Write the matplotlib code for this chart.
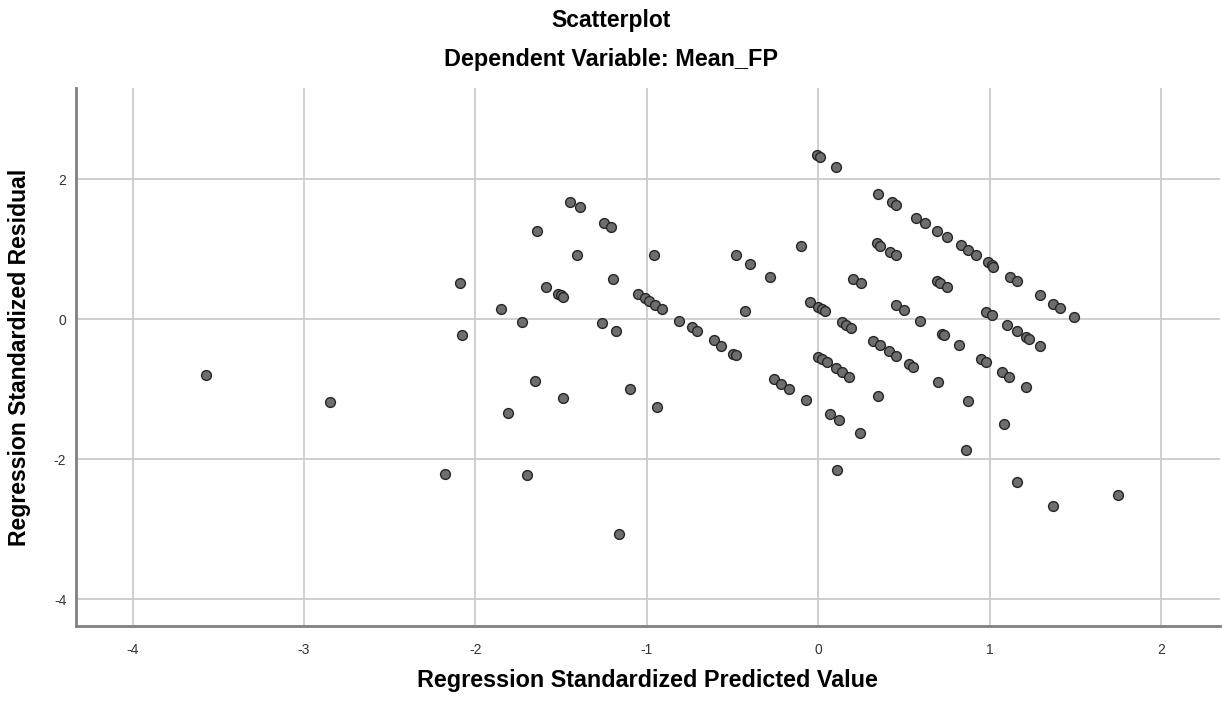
import matplotlib
matplotlib.use("Agg")
import matplotlib.pyplot as plt

plt.rcParams['font.family'] = ['Liberation Sans', 'DejaVu Sans']
plt.rcParams['axes.unicode_minus'] = False

# standardized predicted values (x) and standardized residuals (y)
pred = [-3.57, -2.85, -2.09, -2.08, -2.18, -1.85, -1.81, -1.73, -1.70, -1.65,
        -1.64, -1.59, -1.52, -1.50, -1.49, -1.49, -1.45, -1.39, -1.41, -1.26,
        -1.25, -1.21, -1.20, -1.18, -1.16, -1.10, -1.05, -1.01, -0.99, -0.95,
        -0.96, -0.94, -0.91, -0.81, -0.74, -0.71, -0.61, -0.57, -0.50, -0.48,
        -0.48, -0.43, -0.40, -0.28, -0.26, -0.22, -0.17, -0.10, -0.07, -0.05,
        -0.01, 0.00, 0.00, 0.01, 0.02, 0.02, 0.04, 0.05, 0.07, 0.10,
        0.10, 0.11, 0.12, 0.14, 0.14, 0.16, 0.18, 0.19, 0.20, 0.24,
        0.25, 0.32, 0.34, 0.35, 0.35, 0.36, 0.36, 0.41, 0.42, 0.43,
        0.45, 0.45, 0.45, 0.45, 0.50, 0.53, 0.55, 0.57, 0.59, 0.62,
        0.69, 0.69, 0.70, 0.71, 0.72, 0.73, 0.75, 0.75, 0.82, 0.83,
        0.86, 0.87, 0.87, 0.92, 0.95, 0.98, 0.98, 0.99, 1.01, 1.01,
        1.02, 1.07, 1.08, 1.10, 1.11, 1.12, 1.16, 1.16, 1.16, 1.21,
        1.21, 1.23, 1.29, 1.29, 1.37, 1.37, 1.41, 1.49, 1.75]
resid = [-0.80, -1.18, 0.52, -0.22, -2.21, 0.15, -1.34, -0.04, -2.23, -0.88,
         1.26, 0.46, 0.36, 0.34, 0.31, -1.12, 1.68, 1.60, 0.91, -0.05,
         1.38, 1.32, 0.58, -0.17, -3.07, -1.00, 0.36, 0.30, 0.26, 0.20,
         0.92, -1.25, 0.14, -0.02, -0.11, -0.17, -0.30, -0.38, -0.49, -0.51,
         0.91, 0.12, 0.79, 0.60, -0.86, -0.92, -1.00, 1.04, -1.15, 0.25,
         2.34, 0.18, -0.54, 2.31, 0.15, -0.57, 0.11, -0.61, -1.36, 2.17,
         -0.70, -2.15, -1.44, -0.04, -0.76, -0.08, -0.83, -0.12, 0.58, -1.63,
         0.51, -0.31, 1.09, 1.78, -1.09, 1.04, -0.37, -0.46, 0.96, 1.67,
         1.63, 0.92, 0.20, -0.53, 0.13, -0.64, -0.68, 1.45, -0.02, 1.37,
         1.26, 0.54, -0.90, 0.51, -0.21, -0.23, 1.17, 0.46, -0.37, 1.06,
         -1.87, 0.99, -1.17, 0.91, -0.57, 0.10, -0.61, 0.81, 0.78, 0.06,
         0.75, -0.75, -1.49, -0.09, -0.82, 0.60, 0.54, -0.17, -2.32, -0.25,
         -0.97, -0.28, 0.34, -0.38, 0.22, -2.66, 0.16, 0.03, -2.51]

x_ticks = [-4, -3, -2, -1, 0, 1, 2]
y_ticks = [-4, -2, 0, 2]

fig = plt.figure(figsize=(12.22, 7.03), dpi=100)
ax = fig.add_axes([0.0622, 0.1095, 0.9358, 0.7653])

ax.scatter(pred, resid, s=50, facecolor='#6e6e6e', edgecolor='#262626',
           linewidths=1.0, zorder=3)

ax.set_xlim(-4.33, 2.34)
ax.set_ylim(-4.38, 3.30)
ax.set_xticks(x_ticks)
ax.set_yticks(y_ticks)
ax.grid(True, color='#cccccc', linewidth=1.3, zorder=0)
ax.set_axisbelow(True)

for side in ['top', 'right']:
    ax.spines[side].set_visible(False)
for side in ['left', 'bottom']:
    ax.spines[side].set_color('#808080')
    ax.spines[side].set_linewidth(2)

ax.tick_params(axis='both', length=0, labelsize=10, labelcolor='#333333')
ax.tick_params(axis='x', pad=12)
ax.tick_params(axis='y', pad=7)

# titles centred on the figure, axis titles centred on the plot area
fig.text(0.5, 1 - 26.7 / 703, 'Scatterplot', ha='center', va='baseline',
         fontsize=16.5, fontweight='bold')
fig.text(0.5, 1 - 66 / 703, 'Dependent Variable: Mean_FP', ha='center',
         va='baseline', fontsize=16.8, fontweight='bold')
fig.text(0.0622 + 0.9358 / 2, 1 - 687 / 703,
         'Regression Standardized Predicted Value',
         ha='center', va='baseline', fontsize=16.8, fontweight='bold')
fig.text(20 / 1222, 0.1095 + 0.7653 / 2, 'Regression Standardized Residual',
         ha='center', va='center', rotation=90, fontsize=16.6,
         fontweight='bold')

fig.savefig('out.png', dpi=100)
